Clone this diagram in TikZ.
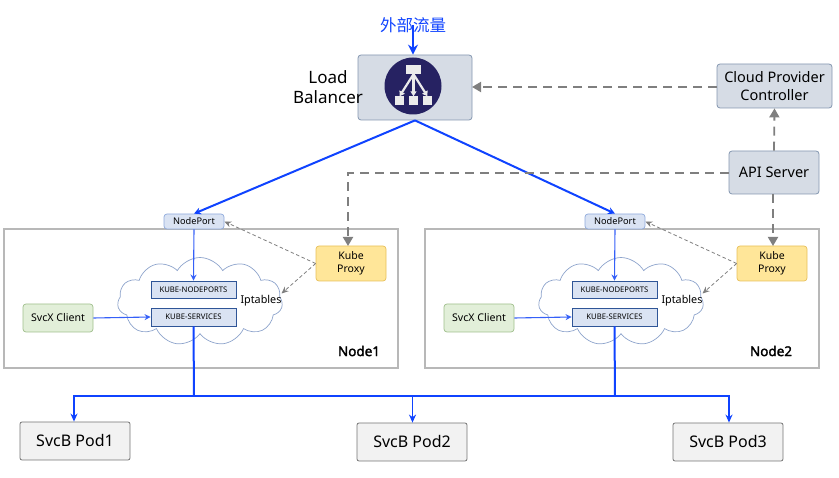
\documentclass[tikz,border=0pt]{standalone}
\usepackage{fontspec}
\setmainfont{Noto Sans}
\newfontfamily\cjkfont{Noto Sans CJK SC}
\newfontfamily\namefont[FakeBold=2]{Noto Sans}
\usetikzlibrary{arrows.meta,shapes.symbols}
\definecolor{linkblue}{HTML}{0F43FF}
\definecolor{softblue}{HTML}{3560F8}
\definecolor{ctrlgrey}{HTML}{7F7F7F}
\definecolor{slatefill}{HTML}{D6DCE5}
\definecolor{slateline}{HTML}{8497B0}
\definecolor{portfill}{HTML}{DAE3F3}
\definecolor{portline}{HTML}{8FAADC}
\definecolor{chainline}{HTML}{2F5597}
\definecolor{cloudline}{HTML}{8EA4CC}
\definecolor{proxyfill}{HTML}{FFE699}
\definecolor{proxyline}{HTML}{E8C05A}
\definecolor{clientfill}{HTML}{E2EFD9}
\definecolor{clientline}{HTML}{A0BF8C}
\definecolor{podfill}{HTML}{F2F2F2}
\definecolor{iconnavy}{HTML}{262262}
\tikzset{
  slatebox/.style  = {rounded corners=3pt, draw=slateline, line width=0.8pt, fill=slatefill,
                      align=center, inner sep=0pt, font=\fontsize{14.5}{18}\selectfont},
  nodeframe/.style = {draw=black!28, line width=1.3pt, minimum width=394pt, minimum height=139pt},
  portbox/.style   = {rounded corners=3pt, draw=portline, line width=0.7pt, fill=portfill,
                      minimum width=60pt, minimum height=15pt, inner sep=0pt,
                      font=\fontsize{9.2}{10}\selectfont},
  chainbox/.style  = {draw=chainline, line width=0.8pt, fill=portfill, minimum width=85pt,
                      inner sep=0pt, font=\fontsize{7.7}{9}\selectfont},
  proxybox/.style  = {rounded corners=3pt, draw=proxyline, line width=0.7pt, fill=proxyfill,
                      minimum width=70pt, minimum height=35pt, inner sep=0pt, align=center,
                      font=\fontsize{10.5}{13.5}\selectfont},
  clientbox/.style = {rounded corners=3pt, draw=clientline, line width=0.7pt, fill=clientfill,
                      minimum width=70pt, minimum height=28pt, inner sep=0pt,
                      font=\fontsize{10.6}{12}\selectfont},
  podbox/.style    = {rounded corners=2pt, draw=black!55, line width=0.8pt, fill=podfill,
                      minimum width=110pt, minimum height=38pt, inner sep=0pt,
                      font=\fontsize{16}{18}\selectfont},
  puffs/.style     = {cloud, cloud puffs=11, cloud puff arc=120, aspect=1.9, draw=cloudline,
                      line width=0.7pt, fill=white, minimum width=165pt, minimum height=88pt,
                      inner sep=0pt},
  flow/.style      = {-{Stealth[length=6pt,width=6pt]}, draw=softblue, line width=1.1pt},
  flowdrop/.style  = {-{Stealth[length=8pt,width=7pt]}, draw=linkblue, line width=1.6pt},
  flowbold/.style  = {draw=linkblue, line width=2pt},
  ctrl/.style      = {-{Triangle[length=9pt,width=10pt]}, draw=ctrlgrey, line width=1.8pt,
                      dash pattern=on 9pt off 6pt},
  ctrlthin/.style  = {-{Stealth[length=7pt,width=6pt]}, draw=ctrlgrey, line width=0.8pt,
                      dash pattern=on 3.5pt off 2.5pt},
  iconrect/.style  = {fill=white!92!black, inner sep=0pt},
  iconflow/.style  = {-{Triangle[length=5pt,width=6pt]}, draw=white!92!black, line width=2.2pt},
}
\begin{document}
\begin{tikzpicture}[x=1pt,y=-1pt]
  \useasboundingbox (0,0) rectangle (839,478);

  \node[nodeframe] (node1) at (201,298.5) {};
  \node[nodeframe] (node2) at (622,298.5) {};
  \node[font=\fontsize{13.5}{15}\selectfont\namefont] (name1) at (359,351) {Node1};
  \node[font=\fontsize{13.5}{15}\selectfont\namefont] (name2) at (771,351) {Node2};

  \node[slatebox,minimum width=114pt,minimum height=65pt] (lb) at (415,87.5) {};
  \node[circle,fill=iconnavy,minimum size=57pt,inner sep=0pt] (icon) at (413,86) {};
  \node[iconrect,minimum width=15pt,minimum height=9pt] (icontop) at (413.5,69.5) {};
  \node[iconrect,minimum width=9pt,minimum height=9pt] (iconl) at (399.5,101) {};
  \node[iconrect,minimum width=9pt,minimum height=9pt] (iconm) at (413.5,101) {};
  \node[iconrect,minimum width=9pt,minimum height=9pt] (iconr) at (427.5,101) {};
  \draw[iconflow] (icontop.south) -- (iconl.north);
  \draw[iconflow] (icontop.south) -- (iconm.north);
  \draw[iconflow] (icontop.south) -- (iconr.north);
  \node[align=center,font=\fontsize{17}{20}\selectfont] (lbname) at (328,87) {Load\\Balancer};
  \node[text=linkblue,font=\fontsize{16.5}{18}\selectfont\cjkfont] (traffic) at (413,25) {外部流量};

  \node[slatebox,minimum width=115pt,minimum height=44pt] (cpc) at (774.5,86) {Cloud Provider\\Controller};
  \node[slatebox,minimum width=90pt,minimum height=43pt] (api) at (774,172.5) {API Server};

  \node[portbox] (port1) at (194,221.5) {NodePort};
  \node[portbox] (port2) at (615,221.5) {NodePort};
  \node[proxybox] (proxy1) at (351,263.5) {Kube\\Proxy};
  \node[proxybox] (proxy2) at (772,263.5) {Kube\\Proxy};

  \node[puffs] (cloud1) at (200,301.5) {};
  \node[puffs] (cloud2) at (621,301.5) {};
  \node[chainbox,minimum height=17pt] (chain1) at (193.5,289.5) {KUBE-NODEPORTS};
  \node[chainbox,minimum height=18pt] (svc1) at (193.5,317) {KUBE-SERVICES};
  \node[chainbox,minimum height=17pt] (chain2) at (614.5,289.5) {KUBE-NODEPORTS};
  \node[chainbox,minimum height=18pt] (svc2) at (614.5,317) {KUBE-SERVICES};
  \node[font=\fontsize{10.8}{12}\selectfont] (ipt1) at (261,300.5) {Iptables};
  \node[font=\fontsize{10.8}{12}\selectfont] (ipt2) at (682,300.5) {Iptables};
  \node[clientbox] (client1) at (58,318) {SvcX Client};
  \node[clientbox] (client2) at (479,318) {SvcX Client};

  \node[podbox] (pod1) at (75,441) {SvcB Pod1};
  \node[podbox] (pod2) at (412,442) {SvcB Pod2};
  \node[podbox] (pod3) at (728,442) {SvcB Pod3};

  \coordinate (bus1) at (194,396);
  \coordinate (bus2) at (615,396);
  \coordinate (busl) at (74,396);
  \coordinate (busm) at (412.5,396);
  \coordinate (busr) at (729,396);
  \coordinate (proxyturn) at (348,173);
  \coordinate (proxyin) at (348,246);
  \coordinate (apidown) at (773,194);
  \coordinate (proxy2in) at (773,246);
  \coordinate (cpcleft) at (717,87);
  \coordinate (lbright) at (472,87);
  \coordinate (cloudedge1) at (281.5,293.5);
  \coordinate (cloudedge2) at (702.5,293.5);

  \draw[-{Stealth[length=10pt,width=10pt]},flowbold] (traffic.center) -- (traffic.center |- lb.north);
  \draw[-{Stealth[length=7pt,width=7pt]},flowbold] (lb.south) -- (port1.north);
  \draw[-{Stealth[length=7pt,width=7pt]},flowbold] (lb.south) -- (port2.north);
  \draw[flow] (port1.south) -- (chain1.north);
  \draw[flow] (port2.south) -- (chain2.north);
  \draw[flow] (client1.east) -- (svc1.west);
  \draw[flow] (client2.east) -- (svc2.west);
  \draw[flowbold] (svc1.south) -- (bus1);
  \draw[flowbold] (svc2.south) -- (bus2);
  \draw[flowbold,line cap=rect] (busl) -- (busr);
  \draw[flowdrop] (busl) -- (pod1.north -| busl);
  \draw[flowdrop] (busm) -- (pod2.north -| busm);
  \draw[flowdrop] (busr) -- (pod3.north -| busr);

  \draw[ctrl] (api.west |- proxyturn) -- (proxyturn) -- (proxyin);
  \draw[ctrl] (apidown) -- (proxy2in);
  \draw[ctrl] (api.north) -- (cpc.south);
  \draw[ctrl] (cpcleft) -- (lbright);
  \draw[ctrlthin] (proxy1.west) -- (port1.east);
  \draw[ctrlthin] (proxy2.west) -- (port2.east);
  \draw[ctrlthin] (proxy1.west) -- (cloudedge1);
  \draw[ctrlthin] (proxy2.west) -- (cloudedge2);
\end{tikzpicture}
\end{document}
